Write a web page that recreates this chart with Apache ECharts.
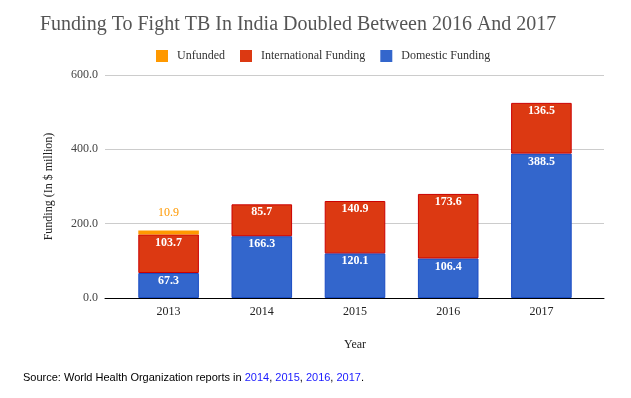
<!DOCTYPE html>
<html><head><meta charset="utf-8">
<script src="https://cdn.jsdelivr.net/npm/echarts@6/dist/echarts.min.js"></script>
<style>html,body{margin:0;padding:0;background:#fff}#c{width:631px;height:398px}</style>
</head><body><div id="c"></div>
<script>
const years = ['2013','2014','2015','2016','2017'];
const domestic = [67.3, 166.3, 120.1, 106.4, 388.5];
const international = [103.7, 85.7, 140.9, 173.6, 136.5];
const unfunded = [10.9, null, null, null, null];
const yTicks = [0, 200, 400, 600];

const serif = '"Liberation Serif", "DejaVu Serif", serif';
const chart = echarts.init(document.getElementById('c'));
const lbl = {show: true, position: 'insideTop', distance: 2, color: '#fff', fontFamily: serif, fontSize: 12, fontWeight: 'bold',
  formatter: p => p.value == null ? '' : p.value.toFixed(1)};
chart.setOption({
  animation: false,
  title: {text: 'Funding To Fight TB In India Doubled Between 2016 And 2017', left: 35, top: 10,
    textStyle: {fontFamily: serif, fontSize: 20, fontWeight: 'normal', color: '#555'}},
  legend: {top: 45, left: 151, icon: 'rect', itemWidth: 12, itemHeight: 12, itemGap: 15,
    itemStyle: {borderWidth: 0},
    data: ['Unfunded', 'International Funding', 'Domestic Funding'],
    textStyle: {fontFamily: serif, fontSize: 12, color: '#333', padding: [0, 0, 0, 4]}},
  grid: [
    {left: 105, right: 27, top: 75, bottom: 100},
    {left: 122, right: 43, top: 75, bottom: 100}
  ],
  xAxis: [
    {type: 'category', gridIndex: 0, data: years, axisLabel: {show: false}, axisTick: {show: false},
      axisLine: {lineStyle: {color: '#000', width: 1}}},
    {type: 'category', gridIndex: 1, data: years, axisLine: {show: false}, axisTick: {show: false},
      axisLabel: {fontFamily: serif, fontSize: 12, color: '#222', margin: 8},
      name: 'Year', nameLocation: 'middle', nameGap: 41,
      nameTextStyle: {fontFamily: serif, fontSize: 12, color: '#222'}}
  ],
  yAxis: [
    {type: 'value', gridIndex: 0, min: yTicks[0], max: yTicks[yTicks.length-1], interval: 200,
      axisLine: {show: false}, axisTick: {show: false},
      splitLine: {lineStyle: {color: '#ccc'}},
      axisLabel: {fontFamily: serif, fontSize: 12, color: '#444', margin: 7, formatter: v => v.toFixed(1)},
      name: 'Funding (In $ million)', nameLocation: 'middle', nameGap: 50,
      nameTextStyle: {fontFamily: serif, fontSize: 12, color: '#222'}},
    {type: 'value', gridIndex: 1, min: 0, max: 600, interval: 200, show: false, splitLine: {show: false}}
  ],
  series: [
    {name: 'Domestic Funding', type: 'bar', stack: 'f', xAxisIndex: 1, yAxisIndex: 1, data: domestic,
      barCategoryGap: '35%', itemStyle: {color: '#3366cc', borderColor: '#1a4cc4', borderWidth: 1}, label: lbl},
    {name: 'International Funding', type: 'bar', stack: 'f', xAxisIndex: 1, yAxisIndex: 1, data: international,
      itemStyle: {color: '#dc3912', borderColor: '#cc0000', borderWidth: 1}, label: lbl},
    {name: 'Unfunded', type: 'bar', stack: 'f', xAxisIndex: 1, yAxisIndex: 1, data: unfunded,
      itemStyle: {color: '#ff9900', borderColor: '#f08000', borderWidth: 0},
      label: {show: true, position: 'top', distance: 12, color: '#ff9900', fontFamily: serif, fontSize: 12,
        formatter: p => p.value == null ? '' : p.value.toFixed(1)}}
  ],
  graphic: [{type: 'text', left: 23, top: 372, style: {
    text: '{b|Source: World Health Organization reports in }{l|2014}{b|, }{l|2015}{b|, }{l|2016}{b|, }{l|2017}{b|.}',
    rich: {b: {fontFamily: '"Liberation Sans", Arial, sans-serif', fontSize: 11, fill: '#000', color: '#000'},
           l: {fontFamily: '"Liberation Sans", Arial, sans-serif', fontSize: 11, fill: '#1a1aff', color: '#1a1aff'}}}}]
});
</script></body></html>
